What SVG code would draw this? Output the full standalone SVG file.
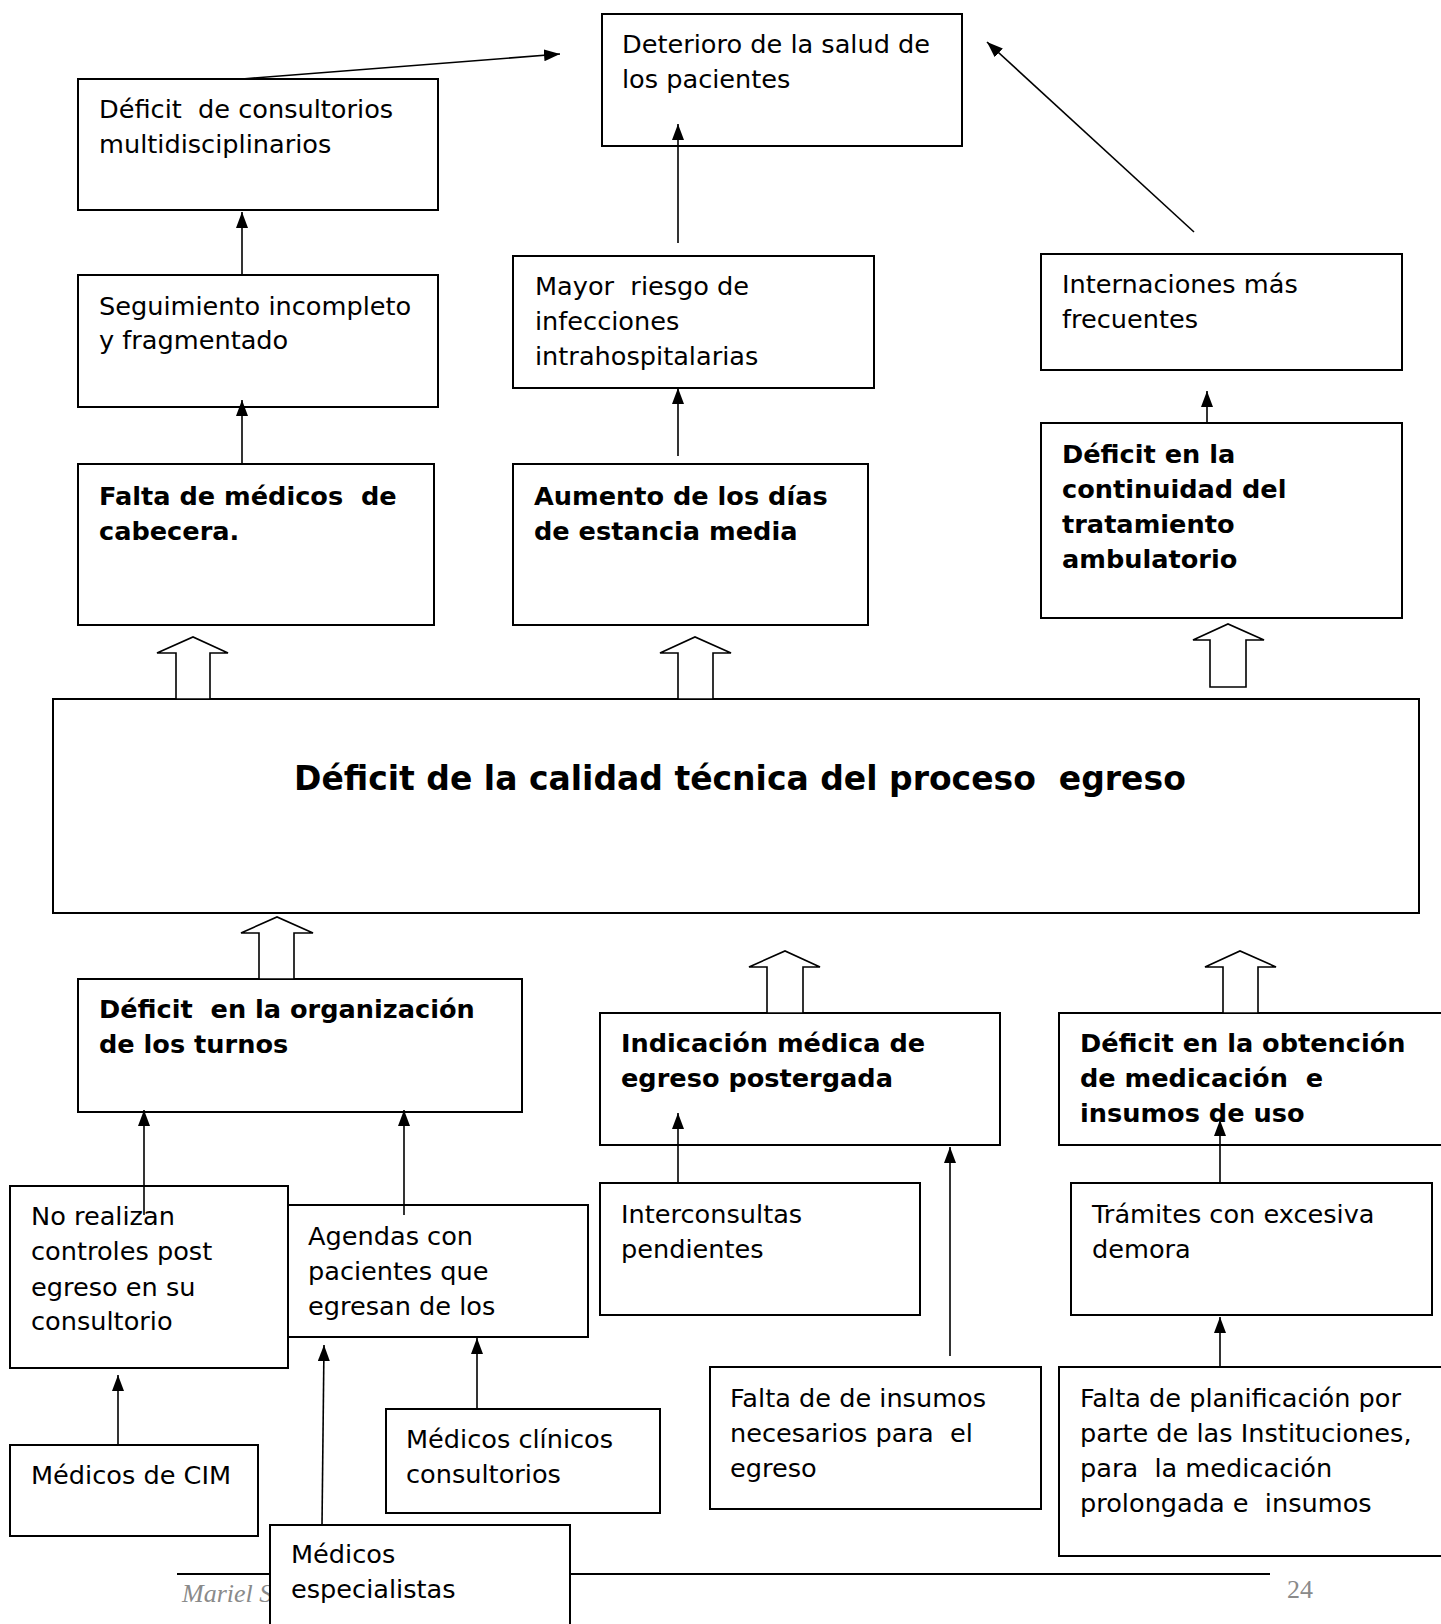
<svg xmlns="http://www.w3.org/2000/svg" width="1441" height="1624" viewBox="0 0 1441 1624">
<style>
.box{fill:#fff;stroke:#000;stroke-width:2}
.t{font-family:"DejaVu Sans",Verdana,sans-serif;font-size:25.6px;fill:#000}
.b{font-weight:bold}
.title{font-family:"DejaVu Sans",Verdana,sans-serif;font-size:33px;font-weight:bold;fill:#000}
.ln{stroke:#000;stroke-width:1.6;fill:none;marker-end:url(#ah)}
.blk{fill:#fff;stroke:#000;stroke-width:1.6}
.foot{font-family:"Liberation Serif","Times New Roman",serif;font-size:26px;fill:#8a8a8a}
</style>
<defs>
<marker id="ah" viewBox="0 0 16 12" markerWidth="16" markerHeight="12" refX="16" refY="6" orient="auto" markerUnits="userSpaceOnUse">
<path d="M0,0 L16,6 L0,12 Z" fill="#000"/>
</marker>
</defs>
<rect width="1441" height="1624" fill="#fff"/>
<g id="footer">
<line x1="177" y1="1574" x2="1270" y2="1574" stroke="#000" stroke-width="2"/>
<text class="foot" x="182" y="1602" font-style="italic">Mariel S</text>
<text class="foot" x="1287" y="1598">24</text>
</g>
<g id="n-deterioro"><rect class="box" x="602" y="14" width="360" height="132"/>
<text class="t" x="622" y="53">Deterioro de la salud de</text><text class="t" x="622" y="88">los pacientes</text></g>
<g id="n-consultorios"><rect class="box" x="78" y="79" width="360" height="131"/>
<text class="t" x="99" y="118" xml:space="preserve">Déficit  de consultorios</text><text class="t" x="99" y="153">multidisciplinarios</text></g>
<g id="n-seguimiento"><rect class="box" x="78" y="275" width="360" height="132"/>
<text class="t" x="99" y="315">Seguimiento incompleto</text><text class="t" x="99" y="349">y fragmentado</text></g>
<g id="n-riesgo"><rect class="box" x="513" y="256" width="361" height="132"/>
<text class="t" x="535" y="295" xml:space="preserve">Mayor  riesgo de</text><text class="t" x="535" y="330">infecciones</text><text class="t" x="535" y="365">intrahospitalarias</text></g>
<g id="n-internaciones"><rect class="box" x="1041" y="254" width="361" height="116"/>
<text class="t" x="1062" y="293">Internaciones más</text><text class="t" x="1062" y="328">frecuentes</text></g>
<g id="n-falta-medicos"><rect class="box" x="78" y="464" width="356" height="161"/>
<text class="t b" x="99" y="505" xml:space="preserve">Falta de médicos  de</text><text class="t b" x="99" y="540">cabecera.</text></g>
<g id="n-aumento"><rect class="box" x="513" y="464" width="355" height="161"/>
<text class="t b" x="534" y="505">Aumento de los días</text><text class="t b" x="534" y="540">de estancia media</text></g>
<g id="n-continuidad"><rect class="box" x="1041" y="423" width="361" height="195"/>
<text class="t b" x="1062" y="463">Déficit en la</text><text class="t b" x="1062" y="498">continuidad del</text><text class="t b" x="1062" y="533">tratamiento</text><text class="t b" x="1062" y="568">ambulatorio</text></g>
<g id="n-central"><rect class="box" x="53" y="699" width="1366" height="214"/>
<text class="title" x="294" y="790" xml:space="preserve">Déficit de la calidad técnica del proceso  egreso</text></g>
<g id="n-turnos"><rect class="box" x="78" y="979" width="444" height="133"/>
<text class="t b" x="99" y="1018" xml:space="preserve">Déficit  en la organización</text><text class="t b" x="99" y="1053">de los turnos</text></g>
<g id="n-indicacion"><rect class="box" x="600" y="1013" width="400" height="132"/>
<text class="t b" x="621" y="1052">Indicación médica de</text><text class="t b" x="621" y="1087">egreso postergada</text></g>
<g id="n-obtencion"><rect class="box" x="1059" y="1013" width="390" height="132"/>
<text class="t b" x="1080" y="1052">Déficit en la obtención</text><text class="t b" x="1080" y="1087" xml:space="preserve">de medicación  e</text><text class="t b" x="1080" y="1122">insumos de uso</text></g>
<g id="n-norealizan"><rect class="box" x="10" y="1186" width="278" height="182"/>
<text class="t" x="31" y="1225">No realizan</text><text class="t" x="31" y="1260">controles post</text><text class="t" x="31" y="1296">egreso en su</text><text class="t" x="31" y="1330">consultorio</text></g>
<g id="n-agendas"><rect class="box" x="288" y="1205" width="300" height="132"/>
<text class="t" x="308" y="1245">Agendas con</text><text class="t" x="308" y="1280">pacientes que</text><text class="t" x="308" y="1315">egresan de los</text></g>
<g id="n-interconsultas"><rect class="box" x="600" y="1183" width="320" height="132"/>
<text class="t" x="621" y="1223">Interconsultas</text><text class="t" x="621" y="1258">pendientes</text></g>
<g id="n-tramites"><rect class="box" x="1071" y="1183" width="361" height="132"/>
<text class="t" x="1092" y="1223">Trámites con excesiva</text><text class="t" x="1092" y="1258">demora</text></g>
<g id="n-cim"><rect class="box" x="10" y="1445" width="248" height="91"/>
<text class="t" x="31" y="1484">Médicos de CIM</text></g>
<g id="n-clinicos"><rect class="box" x="386" y="1409" width="274" height="104"/>
<text class="t" x="406" y="1448">Médicos clínicos</text><text class="t" x="406" y="1483">consultorios</text></g>
<g id="n-insumos"><rect class="box" x="710" y="1367" width="331" height="142"/>
<text class="t" x="730" y="1407">Falta de de insumos</text><text class="t" x="730" y="1442" xml:space="preserve">necesarios para  el</text><text class="t" x="730" y="1477">egreso</text></g>
<g id="n-planificacion"><rect class="box" x="1059" y="1367" width="390" height="189"/>
<text class="t" x="1080" y="1407">Falta de planificación por</text><text class="t" x="1080" y="1442">parte de las Instituciones,</text><text class="t" x="1080" y="1477" xml:space="preserve">para  la medicación</text><text class="t" x="1080" y="1512" xml:space="preserve">prolongada e  insumos</text></g>
<g id="n-especialistas"><rect class="box" x="270" y="1525" width="300" height="110"/>
<text class="t" x="291" y="1563">Médicos</text><text class="t" x="291" y="1598">especialistas</text></g>
<g id="connectors">
<line class="ln" x1="242" y1="79" x2="560" y2="54"/>
<line class="ln" x1="678" y1="243" x2="678" y2="124"/>
<line class="ln" x1="1194" y1="232" x2="987" y2="42"/>
<line class="ln" x1="242" y1="275" x2="242" y2="212"/>
<line class="ln" x1="242" y1="464" x2="242" y2="400"/>
<line class="ln" x1="678" y1="456" x2="678" y2="388"/>
<line class="ln" x1="1207" y1="423" x2="1207" y2="391"/>
<line class="ln" x1="144" y1="1215" x2="144" y2="1110"/>
<line class="ln" x1="404" y1="1215" x2="404" y2="1110"/>
<line class="ln" x1="678" y1="1183" x2="678" y2="1113"/>
<line class="ln" x1="950" y1="1356" x2="950" y2="1147"/>
<line class="ln" x1="1220" y1="1183" x2="1220" y2="1120"/>
<line class="ln" x1="1220" y1="1367" x2="1220" y2="1317"/>
<line class="ln" x1="118" y1="1445" x2="118" y2="1375"/>
<line class="ln" x1="322" y1="1525" x2="324" y2="1345"/>
<line class="ln" x1="477" y1="1409" x2="477" y2="1338"/>
<polygon class="blk" points="176,699 176,653 157,653 193,637 228,653 210,653 210,699"/>
<polygon class="blk" points="678,699 678,653 660,653 695,637 731,653 713,653 713,699"/>
<polygon class="blk" points="1210,687 1210,640 1193,640 1228,624 1264,640 1246,640 1246,687"/>
<polygon class="blk" points="259,979 259,933 241,933 277,917 313,933 294,933 294,979"/>
<polygon class="blk" points="767,1013 767,967 749,967 785,951 820,967 803,967 803,1013"/>
<polygon class="blk" points="1223,1013 1223,967 1205,967 1240,951 1276,967 1258,967 1258,1013"/>
</g>
</svg>
